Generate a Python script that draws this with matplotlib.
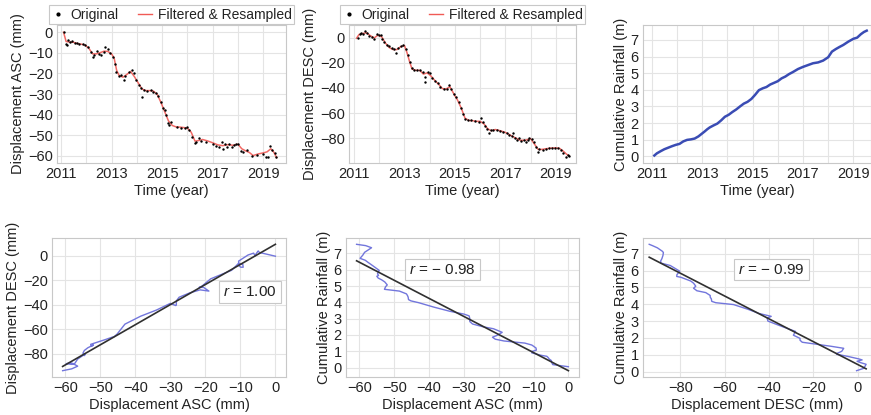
"""
InSAR displacement vs cumulative rainfall, 2011-2019.
Top row: time series; bottom row: pairwise relations with a linear fit.
"""

import matplotlib.pyplot as plt
import matplotlib.ticker as mticker
import numpy as np
from matplotlib.lines import Line2D

# ---------------------------------------------------------------------------
# Data (decimal years)
# ---------------------------------------------------------------------------

# common time base of the filtered / resampled series
TIME = [
    2011.10, 2011.20, 2011.35, 2011.50, 2011.65, 2011.80, 2011.95, 2012.10,
    2012.25, 2012.40, 2012.55, 2012.70, 2012.85, 2013.00, 2013.10, 2013.20,
    2013.30, 2013.45, 2013.60, 2013.75, 2013.90, 2014.05, 2014.20, 2014.35,
    2014.50, 2014.65, 2014.80, 2014.95, 2015.10, 2015.25, 2015.40, 2015.55,
    2015.70, 2015.85, 2016.00, 2016.15, 2016.30, 2016.45, 2016.60, 2016.80,
    2017.00, 2017.20, 2017.40, 2017.60, 2017.80, 2018.00, 2018.15, 2018.30,
    2018.45, 2018.60, 2018.80, 2019.00, 2019.15, 2019.30, 2019.42, 2019.53,
]

ASC_FILT = [
    0.0, -4.5, -4.8, -4.9, -5.5, -5.8, -6.2, -7.8,
    -10.5, -10.5, -9.9, -9.2, -9.3, -10.5, -12.5, -18.5,
    -21.0, -21.8, -20.5, -19.0, -21.5, -24.5, -27.5, -28.3,
    -28.3, -28.5, -30.0, -34.0, -38.5, -43.0, -45.2, -45.9,
    -46.0, -46.2, -46.5, -48.5, -52.8, -52.5, -52.0, -52.7,
    -53.6, -54.6, -55.0, -54.5, -54.8, -54.3, -56.5, -57.5,
    -58.3, -59.8, -59.0, -58.5, -58.0, -56.5, -58.2, -60.8,
]

DESC_FILT = [
    -0.5, 2.5, 3.3, 3.8, 1.5, -0.3, 2.0, 0.5,
    -4.5, -8.0, -9.5, -9.5, -7.2, -6.3, -12.0, -19.0,
    -25.0, -26.0, -26.0, -29.0, -28.0, -30.5, -34.0, -37.0,
    -40.5, -40.8, -39.0, -44.5, -49.5, -56.0, -64.0, -65.8,
    -66.0, -66.5, -66.5, -68.5, -72.5, -74.0, -73.0, -74.0,
    -75.3, -77.5, -79.7, -81.6, -81.5, -80.2, -84.5, -88.8,
    -88.8, -88.3, -87.8, -87.6, -88.0, -90.3, -92.5, -94.0,
]

RAIN_CUM = [
    0.05, 0.18, 0.31, 0.43, 0.52, 0.61, 0.69, 0.75,
    0.90, 0.99, 1.02, 1.07, 1.20, 1.38, 1.50, 1.63,
    1.74, 1.86, 1.97, 2.16, 2.38, 2.50, 2.67, 2.82,
    3.00, 3.17, 3.28, 3.45, 3.70, 3.98, 4.09, 4.17,
    4.32, 4.42, 4.52, 4.69, 4.80, 4.95, 5.07, 5.25,
    5.38, 5.49, 5.60, 5.65, 5.76, 5.96, 6.30, 6.45,
    6.58, 6.70, 6.90, 7.07, 7.14, 7.35, 7.48, 7.56,
]

# original acquisitions (ascending track)
ASC_T = [
    2011.12, 2011.18, 2011.22, 2011.28, 2011.36, 2011.45, 2011.55, 2011.62,
    2011.72, 2011.85, 2011.95, 2012.05, 2012.18, 2012.25, 2012.32, 2012.42,
    2012.50, 2012.60, 2012.68, 2012.75, 2012.85, 2012.95, 2013.05, 2013.12,
    2013.18, 2013.28, 2013.38, 2013.48, 2013.55, 2013.70, 2013.80, 2013.88,
    2013.98, 2014.08, 2014.18, 2014.22, 2014.30, 2014.42, 2014.55, 2014.65,
    2014.75, 2014.85, 2014.95, 2015.02, 2015.10, 2015.15, 2015.22, 2015.28,
    2015.35, 2015.60, 2015.75, 2015.90, 2016.00, 2016.08, 2016.18, 2016.28,
    2016.35, 2016.45, 2016.55, 2016.75, 2017.00, 2017.15, 2017.25, 2017.35,
    2017.42, 2017.50, 2017.58, 2017.65, 2017.75, 2017.85, 2017.92, 2018.02,
    2018.12, 2018.20, 2018.35, 2018.55, 2018.75, 2019.00, 2019.12, 2019.20,
    2019.28, 2019.35, 2019.45, 2019.52,
]
ASC_ORIG = [
    0.2, -5.5, -6.2, -4.0, -4.5, -4.2, -5.0, -5.3,
    -5.6, -5.8, -6.0, -7.0, -9.5, -12.0, -11.0, -9.0,
    -10.5, -11.0, -9.5, -7.0, -8.0, -10.0, -12.0, -15.5,
    -19.5, -21.0, -20.5, -23.0, -21.0, -19.5, -18.5, -20.0,
    -23.0, -25.5, -27.0, -31.5, -28.0, -28.5, -28.0, -29.0,
    -29.5, -31.0, -34.0, -36.5, -37.5, -40.0, -44.0, -44.8,
    -43.5, -46.0, -46.5, -46.5, -46.0, -47.5, -51.0, -53.5,
    -53.0, -51.5, -52.5, -53.0, -54.0, -55.0, -55.5, -53.0,
    -56.5, -54.0, -55.5, -54.0, -55.5, -54.5, -54.0, -54.2,
    -57.5, -58.0, -57.3, -60.0, -59.3, -58.8, -60.5, -60.3,
    -55.0, -57.0, -58.5, -60.5,
]

# original acquisitions (descending track)
DESC_T = [
    2011.15, 2011.22, 2011.28, 2011.35, 2011.42, 2011.50, 2011.60, 2011.70,
    2011.80, 2011.90, 2011.98, 2012.05, 2012.12, 2012.20, 2012.30, 2012.40,
    2012.50, 2012.60, 2012.66, 2012.75, 2012.85, 2012.95, 2013.05, 2013.12,
    2013.20, 2013.28, 2013.38, 2013.50, 2013.62, 2013.72, 2013.80, 2013.82,
    2013.92, 2014.00, 2014.10, 2014.22, 2014.32, 2014.42, 2014.55, 2014.68,
    2014.78, 2014.85, 2014.95, 2015.05, 2015.15, 2015.25, 2015.32, 2015.40,
    2015.50, 2015.65, 2015.80, 2015.95, 2016.02, 2016.10, 2016.20, 2016.28,
    2016.35, 2016.42, 2016.52, 2016.65, 2016.78, 2016.92, 2017.05, 2017.15,
    2017.25, 2017.32, 2017.38, 2017.45, 2017.55, 2017.62, 2017.72, 2017.80,
    2017.88, 2017.95, 2018.05, 2018.12, 2018.22, 2018.28, 2018.35, 2018.48,
    2018.60, 2018.72, 2018.85, 2018.95, 2019.08, 2019.20, 2019.30, 2019.40,
    2019.48, 2019.53,
]
DESC_ORIG = [
    -0.5, 2.5, 3.5, 3.0, 5.0, 3.5, 1.5, 0.5,
    -1.0, 2.5, 2.3, 1.8, -1.0, -3.5, -5.5, -7.0,
    -8.5, -9.0, -12.5, -8.5, -7.0, -6.0, -9.0, -14.0,
    -19.0, -24.5, -25.5, -25.5, -26.0, -27.0, -31.0, -35.5,
    -27.0, -28.5, -32.0, -34.5, -36.0, -39.5, -40.5, -40.5,
    -37.5, -40.5, -45.0, -47.5, -51.0, -56.0, -61.0, -64.5,
    -65.5, -65.8, -66.2, -67.0, -64.0, -67.0, -70.0, -72.5,
    -75.5, -73.0, -73.5, -73.5, -74.5, -75.0, -76.0, -77.0,
    -78.5, -76.0, -80.0, -81.5, -80.0, -82.5, -81.0, -83.0,
    -81.0, -80.0, -80.5, -83.0, -87.0, -91.0, -88.5, -89.0,
    -88.5, -88.0, -87.5, -88.0, -88.0, -89.0, -92.0, -95.0,
    -93.0, -94.0,
]

R_LABELS = ["$r$ = 1.00", "$r$ = \u2212 0.98", "$r$ = \u2212 0.99"]

# ---------------------------------------------------------------------------
# Style
# ---------------------------------------------------------------------------
plt.rcParams["font.family"] = ["Liberation Sans", "DejaVu Sans"]
plt.rcParams["mathtext.fontset"] = "custom"
plt.rcParams["mathtext.it"] = "Liberation Sans:italic"
plt.rcParams["mathtext.rm"] = "Liberation Sans"
plt.rcParams["font.size"] = 10.5
plt.rcParams["axes.edgecolor"] = "#c8c8c8"
plt.rcParams["axes.linewidth"] = 0.8
plt.rcParams["text.color"] = "#222222"
plt.rcParams["axes.labelcolor"] = "#222222"
plt.rcParams["xtick.color"] = "#222222"
plt.rcParams["ytick.color"] = "#222222"

RED = "#f05a55"
DARK_BLUE = "#3a4cb4"
LIGHT_BLUE = "#7276dc"
FIT = "#303030"

W, H = 871, 415


def px_axes(fig, left, top, right, bottom):
    """Add axes using pixel edges measured from the top-left corner."""
    return fig.add_axes([left / W, 1 - bottom / H, (right - left) / W, (bottom - top) / H])


def style(ax):
    ax.grid(True, which="both", color="#e4e4e4", linewidth=0.8)
    ax.set_axisbelow(True)
    ax.tick_params(which="both", length=0, pad=3, labelsize=10.5)


def time_axis(ax):
    ax.xaxis.set_major_locator(mticker.FixedLocator([2011, 2013, 2015, 2017, 2019]))
    ax.xaxis.set_minor_locator(mticker.FixedLocator([2012, 2014, 2016, 2018]))
    ax.xaxis.set_major_formatter(mticker.FormatStrFormatter("%d"))
    ax.set_xlabel("Time (year)", labelpad=2)


def add_legend(ax):
    handles = [
        Line2D([], [], color="black", marker=".", markersize=4, linestyle="none"),
        Line2D([], [], color=RED, linewidth=1.0),
    ]
    leg = ax.legend(
        handles, ["Original", "Filtered & Resampled"],
        loc="lower center", bbox_to_anchor=(0.5, 1.0), ncol=2,
        fontsize=10, frameon=True, fancybox=False, handlelength=1.0,
        handletextpad=0.4, columnspacing=1.4, borderpad=0.2,
        borderaxespad=0.05, framealpha=1,
    )
    leg.get_frame().set_edgecolor("#c8c8c8")
    leg.get_frame().set_linewidth(0.8)


def fit_panel(ax, x, y, label, pos):
    x = np.asarray(x)
    y = np.asarray(y)
    ax.plot(x, y, color=LIGHT_BLUE, linewidth=1.0)
    slope, icpt = np.polyfit(x, y, 1)
    xs = np.array([x.min(), x.max()])
    ax.plot(xs, slope * xs + icpt, color=FIT, linewidth=1.2)
    ax.text(*pos, label, transform=ax.transAxes, ha="center", va="center",
            fontsize=11,
            bbox=dict(boxstyle="square,pad=0.25", facecolor="white",
                      edgecolor="#c8c8c8", linewidth=0.8))


fig = plt.figure(figsize=(W / 100, H / 100), dpi=100)

# ---------------------------------------------------------------------------
# Top row: time series
# ---------------------------------------------------------------------------
ax1 = px_axes(fig, 57, 25, 286, 163)
style(ax1)
ax1.scatter(ASC_T, ASC_ORIG, s=3, color="black", zorder=3, linewidths=0)
ax1.plot(TIME, ASC_FILT, color=RED, linewidth=1.1, alpha=0.9, zorder=2)
time_axis(ax1)
ax1.set_xlim(2010.84, 2019.9)
ax1.set_ylim(-63.4, 3.5)
ax1.yaxis.set_major_locator(mticker.MultipleLocator(10))
ax1.set_ylabel("Displacement ASC (mm)", labelpad=2)
add_legend(ax1)

ax2 = px_axes(fig, 349, 25, 576, 163)
style(ax2)
ax2.scatter(DESC_T, DESC_ORIG, s=3, color="black", zorder=3, linewidths=0)
ax2.plot(TIME, DESC_FILT, color=RED, linewidth=1.1, alpha=0.9, zorder=2)
time_axis(ax2)
ax2.set_xlim(2010.8, 2019.8)
ax2.set_ylim(-99.6, 10)
ax2.yaxis.set_major_locator(mticker.MultipleLocator(20))
ax2.set_ylabel("Displacement DESC (mm)", labelpad=2)
add_legend(ax2)

ax3 = px_axes(fig, 643, 25, 871, 163)
style(ax3)
ax3.plot(TIME, RAIN_CUM, color=DARK_BLUE, linewidth=1.8)
time_axis(ax3)
ax3.set_xlim(2010.65, 2019.7)
ax3.set_ylim(-0.4, 7.9)
ax3.yaxis.set_major_locator(mticker.MultipleLocator(1))
ax3.set_ylabel("Cumulative Rainfall (m)", labelpad=2)

# ---------------------------------------------------------------------------
# Bottom row: relations with linear fit
# ---------------------------------------------------------------------------
ax4 = px_axes(fig, 52, 238, 286, 377)
style(ax4)
fit_panel(ax4, ASC_FILT, DESC_FILT, R_LABELS[0], (0.846, 0.61))
ax4.xaxis.set_major_locator(mticker.MultipleLocator(10))
ax4.yaxis.set_major_locator(mticker.MultipleLocator(20))
ax4.set_xlabel("Displacement ASC (mm)", labelpad=2)
ax4.set_ylabel("Displacement DESC (mm)", labelpad=2)

ax5 = px_axes(fig, 346, 238, 579, 377)
style(ax5)
fit_panel(ax5, ASC_FILT, RAIN_CUM, R_LABELS[1], (0.414, 0.773))
ax5.xaxis.set_major_locator(mticker.MultipleLocator(10))
ax5.yaxis.set_major_locator(mticker.MultipleLocator(1))
ax5.set_xlabel("Displacement ASC (mm)", labelpad=2)
ax5.set_ylabel("Cumulative Rainfall (m)", labelpad=2)

ax6 = px_axes(fig, 643, 238, 871, 377)
style(ax6)
fit_panel(ax6, DESC_FILT, RAIN_CUM, R_LABELS[2], (0.564, 0.773))
ax6.set_xlim(-96.8, 6.0)
ax6.xaxis.set_major_locator(mticker.MultipleLocator(20))
ax6.yaxis.set_major_locator(mticker.MultipleLocator(1))
ax6.set_xlabel("Displacement DESC (mm)", labelpad=2)
ax6.set_ylabel("Cumulative Rainfall (m)", labelpad=2)

fig.savefig("out.png", dpi=100)
